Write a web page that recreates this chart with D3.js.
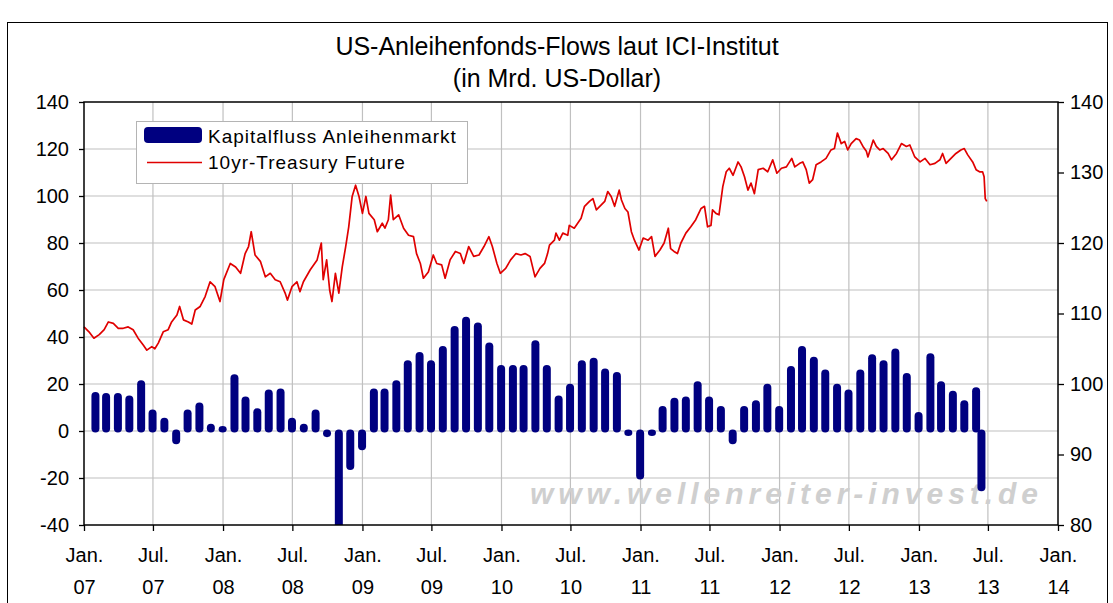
<!DOCTYPE html>
<html>
<head>
<meta charset="utf-8">
<script src="https://cdn.jsdelivr.net/npm/d3@7"></script>
<style>
  body { margin: 0; background: #fff; }
  svg text { font-family: "Liberation Sans", Arial, sans-serif; fill: #000; }
</style>
</head>
<body>
<div id="chart"></div>
<script>
// Monthly bond fund flows (bn USD), Jan 2007 .. Jun 2013
const flowValues = [
  16, 15.5, 15.5, 14.5, 21, 8.5, 5, -5, 8.5, 11.5, 2.5, 1.5,
  23.5, 14, 9, 17, 17.5, 5, 2.5, 8.5, -2, -45, -16, -7.5,
  17.5, 17.5, 21, 29.5, 33, 29.5, 35.5, 44, 48, 45.5, 37, 27.5,
  27.5, 27.5, 38, 27.5, 14.5, 19.5, 29.5, 30.5, 26, 24.5, -1.5, -20,
  -1.5, 10, 13.5, 14, 20.5, 14, 10, -5, 10, 12.5, 19.5, 10,
  27, 35.5, 31, 25.5, 19.5, 17, 25.5, 32, 29.5, 34.5, 24, 7.5,
  32.5, 20.5, 16.5, 12.5, 18, -25
];
const flowLastDate = '2013-06-14'; // partial month

// 10yr Treasury future (right axis)
const treasuryDates = [
  '2007-01-01','2007-01-14','2007-01-27','2007-02-10','2007-02-23','2007-03-06','2007-03-19','2007-04-01','2007-04-14','2007-04-27',
  '2007-05-10','2007-05-23','2007-06-06','2007-06-15','2007-06-28','2007-07-06','2007-07-15','2007-07-28','2007-08-10','2007-08-19',
  '2007-09-02','2007-09-09','2007-09-19','2007-10-02','2007-10-11','2007-10-20','2007-11-02','2007-11-15','2007-11-28','2007-12-11',
  '2007-12-24',
  '2008-01-03','2008-01-20','2008-02-03','2008-02-16','2008-02-28','2008-03-08','2008-03-15','2008-03-25','2008-04-08','2008-04-21',
  '2008-05-04','2008-05-17','2008-05-30','2008-06-12','2008-06-18','2008-06-30','2008-07-13','2008-07-21','2008-07-30','2008-08-17',
  '2008-09-04','2008-09-15','2008-09-20','2008-09-29','2008-10-07','2008-10-13','2008-10-22','2008-10-31','2008-11-09','2008-11-18',
  '2008-11-26','2008-12-05','2008-12-14','2008-12-23',
  '2009-01-01','2009-01-10','2009-01-18','2009-02-01','2009-02-09','2009-02-22','2009-03-01','2009-03-10','2009-03-16','2009-03-23',
  '2009-04-06','2009-04-19','2009-05-02','2009-05-15','2009-05-23','2009-06-02','2009-06-10','2009-06-23','2009-07-06','2009-07-15',
  '2009-07-28','2009-08-06','2009-08-19','2009-09-02','2009-09-15','2009-09-24','2009-10-07','2009-10-20','2009-11-03','2009-11-16',
  '2009-11-29','2009-12-08','2009-12-20','2009-12-29',
  '2010-01-12','2010-01-25','2010-02-08','2010-02-21','2010-03-04','2010-03-17','2010-03-30','2010-04-12','2010-04-24','2010-05-02',
  '2010-05-07','2010-05-20','2010-05-24','2010-06-02','2010-06-11','2010-06-24','2010-06-28','2010-07-11','2010-07-20','2010-07-29',
  '2010-08-07','2010-08-20','2010-08-29','2010-09-07','2010-09-20','2010-09-29','2010-10-07','2010-10-16','2010-10-25','2010-11-06',
  '2010-11-12','2010-11-21','2010-11-29','2010-12-08','2010-12-16','2010-12-28',
  '2011-01-08','2011-01-21','2011-01-30','2011-02-08','2011-02-21','2011-03-04','2011-03-15','2011-03-21','2011-03-30','2011-04-08',
  '2011-04-17','2011-04-30','2011-05-13','2011-05-26','2011-06-09','2011-06-18','2011-06-26','2011-07-05','2011-07-09','2011-07-18',
  '2011-07-26','2011-08-05','2011-08-14','2011-08-22','2011-09-01','2011-09-14','2011-09-22','2011-10-01','2011-10-10','2011-10-18',
  '2011-10-27','2011-11-06','2011-11-19','2011-12-01','2011-12-14','2011-12-25',
  '2012-01-06','2012-01-19','2012-02-02','2012-02-10','2012-02-23','2012-03-02','2012-03-11','2012-03-19','2012-03-28','2012-04-06',
  '2012-04-19','2012-05-02','2012-05-15','2012-05-24','2012-06-01','2012-06-11','2012-06-20','2012-06-28','2012-07-07','2012-07-20',
  '2012-07-29','2012-08-07','2012-08-16','2012-08-20','2012-09-03','2012-09-11','2012-09-20','2012-09-29','2012-10-12','2012-10-21',
  '2012-11-03','2012-11-16','2012-11-29','2012-12-08','2012-12-21',
  '2013-01-04','2013-01-17','2013-01-30','2013-02-12','2013-02-25','2013-03-04','2013-03-13','2013-03-26','2013-04-08','2013-04-21',
  '2013-04-30','2013-05-09','2013-05-22','2013-05-31','2013-06-09','2013-06-17','2013-06-21','2013-06-24','2013-06-28'
];
const treasuryValues = [
  108.1,107.4,106.5,107.0,107.7,108.8,108.6,107.9,107.9,108.1,
  107.7,106.5,105.5,104.8,105.3,105.0,105.8,107.4,107.7,108.8,
  109.8,111.0,109.1,108.8,108.5,110.5,111.0,112.4,114.5,113.8,
  111.7,
  114.8,117.1,116.6,115.7,118.5,119.5,121.6,118.3,117.4,115.2,
  115.7,114.8,114.5,112.9,111.9,113.8,114.5,113.1,114.5,116.2,
  117.6,120.0,114.8,117.6,113.3,111.7,115.7,112.9,116.6,119.5,
  122.3,126.6,128.2,126.6,
  124.2,126.6,124.2,123.3,121.6,122.8,122.1,123.3,126.8,123.3,
  124.0,122.1,121.1,120.9,118.5,117.1,115.0,115.9,118.3,117.1,
  116.9,115.0,117.6,118.8,118.5,117.1,119.5,118.1,118.3,119.5,
  120.9,119.5,117.1,115.7,
  116.4,117.6,118.5,118.3,118.5,118.1,115.2,116.4,117.1,118.5,
  119.7,120.4,121.4,120.4,121.4,121.1,122.5,122.1,122.8,123.5,
  125.2,125.9,126.3,124.7,125.4,125.9,127.3,126.6,125.2,127.5,
  126.1,124.9,124.4,121.6,120.4,119.0,
  120.7,120.4,120.9,118.1,119.0,120.0,122.1,119.2,118.8,118.5,
  120.0,121.4,122.3,123.3,124.9,125.2,122.3,122.5,124.7,124.2,
  124.0,128.0,130.1,130.6,129.6,131.5,130.8,129.4,127.5,128.5,
  127.0,130.4,130.6,130.1,131.8,129.9,
  130.6,130.8,132.0,130.8,131.3,131.5,130.4,128.5,129.0,131.1,
  131.5,132.0,133.2,133.4,135.6,134.1,134.4,133.2,134.1,134.8,
  134.6,133.7,133.0,132.2,134.6,133.7,133.2,133.4,132.7,131.8,
  132.7,134.1,133.7,133.9,132.2,
  131.5,132.0,131.1,131.3,131.8,132.7,131.3,132.0,132.7,133.2,
  133.4,132.5,131.5,130.4,130.1,130.1,129.4,126.3,125.9
];

const leftTicks = [-40, -20, 0, 20, 40, 60, 80, 100, 120, 140];
const rightTicks = [80, 90, 100, 110, 120, 130, 140];
const xTickDates = [
  '2007-01-01','2007-07-01','2008-01-01','2008-07-01','2009-01-01','2009-07-01','2010-01-01','2010-07-01',
  '2011-01-01','2011-07-01','2012-01-01','2012-07-01','2013-01-01','2013-07-01','2014-01-01'
];
const titleLines = ['US-Anleihenfonds-Flows laut ICI-Institut', '(in Mrd. US-Dollar)'];
const legendLabels = ['Kapitalfluss Anleihenmarkt', '10yr-Treasury Future'];
const watermarkText = 'www.wellenreiter-invest.de';

const barColor = '#000080';
const lineColor = '#e00000';
const gridColor = '#c0c0c0';

const W = 1113, H = 603;
const margin = { top: 102, right: 55, bottom: 78, left: 84 };
const width = W - margin.left - margin.right;
const height = H - margin.top - margin.bottom;

const parseDate = d3.timeParse('%Y-%m-%d');

// bars sit on the last day of each month, the final one on a mid-June date
const flowDates = d3.timeMonth
  .range(parseDate('2007-02-01'), parseDate('2013-07-01'))
  .map((d) => d3.timeDay.offset(d, -1));
flowDates.push(parseDate(flowLastDate));
const flows = flowValues.map((v, i) => ({ date: flowDates[i], value: v }));
const treasury = treasuryValues.map((v, i) => ({ date: parseDate(treasuryDates[i]), value: v }));
const xTicks = xTickDates.map(parseDate);

const xScale = d3.scaleTime().domain([xTicks[0], xTicks[xTicks.length - 1]]).range([0, width]);
const yLeft = d3.scaleLinear().domain([-40, 140]).range([height, 0]);
const yRight = d3.scaleLinear().domain([80, 140]).range([height, 0]);

const svg = d3.select('#chart').append('svg')
  .attr('width', W).attr('height', H);

// outer frame
svg.append('rect')
  .attr('x', 7.5).attr('y', 22.5)
  .attr('width', 1100).attr('height', 620)
  .attr('fill', 'none').attr('stroke', '#000').attr('stroke-width', 1);

// title
svg.append('g').selectAll('text')
  .data(titleLines)
  .join('text')
  .attr('x', 557)
  .attr('y', (d, i) => 55 + i * 32)
  .attr('text-anchor', 'middle')
  .style('font-size', '25px')
  .text((d) => d);

const plot = svg.append('g')
  .attr('transform', `translate(${margin.left},${margin.top})`);

plot.append('clipPath').attr('id', 'clip')
  .append('rect').attr('width', width).attr('height', height);

// grid
plot.append('g').selectAll('line')
  .data(leftTicks.slice(1, -1))
  .join('line')
  .attr('x1', 0).attr('x2', width)
  .attr('y1', (d) => yLeft(d)).attr('y2', (d) => yLeft(d))
  .attr('stroke', gridColor).attr('stroke-width', 1.2);

plot.append('g').selectAll('line')
  .data(xTicks.slice(1, -1))
  .join('line')
  .attr('x1', (d) => xScale(d)).attr('x2', (d) => xScale(d))
  .attr('y1', 0).attr('y2', height)
  .attr('stroke', gridColor).attr('stroke-width', 1.2);

// watermark
plot.append('text')
  .attr('x', 446).attr('y', 402)
  .attr('textLength', 508)
  .attr('lengthAdjust', 'spacing')
  .style('font-size', '30px')
  .style('font-style', 'italic')
  .style('font-weight', 'bold')
  .style('fill', '#cfcfcf')
  .text(watermarkText);

// bars
const barW = 8;
const y0 = yLeft(0);
plot.append('g')
  .attr('clip-path', 'url(#clip)')
  .selectAll('rect')
  .data(flows)
  .join('rect')
  .attr('x', (d) => xScale(d.date) - barW / 2)
  .attr('y', (d) => Math.min(yLeft(d.value), y0) - 1.5)
  .attr('width', barW)
  .attr('height', (d) => Math.abs(yLeft(d.value) - y0) + 3)
  .attr('rx', 4)
  .attr('fill', barColor);

// treasury line
const makeLine = d3.line()
  .x((d) => xScale(d.date))
  .y((d) => yRight(d.value));

plot.append('path')
  .datum(treasury)
  .attr('d', makeLine)
  .attr('fill', 'none')
  .attr('stroke', lineColor)
  .attr('stroke-width', 1.7)
  .attr('stroke-linejoin', 'round');

// frame of plot area
plot.append('rect')
  .attr('width', width).attr('height', height)
  .attr('fill', 'none').attr('stroke', '#000').attr('stroke-width', 1.5);

// axes (plain hyphen for negatives, as in the original)
const plain = (d) => String(d);
const yAxisL = d3.axisLeft(yLeft).tickValues(leftTicks).tickSize(5).tickPadding(10).tickFormat(plain);
const yAxisR = d3.axisRight(yRight).tickValues(rightTicks).tickSize(6).tickPadding(6).tickFormat(plain);
const xAxis = d3.axisBottom(xScale).tickValues(xTicks).tickSize(6).tickFormat('');

const gl = plot.append('g').call(yAxisL);
const gr = plot.append('g').attr('transform', `translate(${width},0)`).call(yAxisR);
const gx = plot.append('g').attr('transform', `translate(0,${height})`).call(xAxis);

[gl, gr, gx].forEach((g) => {
  g.select('.domain').remove();
  g.selectAll('.tick line').attr('stroke', '#000').attr('stroke-width', 1.3);
  g.selectAll('.tick text').style('font-size', '20px').attr('fill', '#000');
});

const monthFmt = (d) => (d.getMonth() === 0 ? 'Jan.' : 'Jul.');
const yearFmt = d3.timeFormat('%y');
gx.selectAll('.tick').each(function (d) {
  const t = d3.select(this);
  t.append('text').attr('y', 37).attr('text-anchor', 'middle')
    .style('font-size', '20px').attr('fill', '#000').text(monthFmt(d));
  t.append('text').attr('y', 69).attr('text-anchor', 'middle')
    .style('font-size', '20px').attr('fill', '#000').text(yearFmt(d));
});

// legend
const legend = svg.append('g');
legend.append('rect')
  .attr('x', 136.5).attr('y', 121.5).attr('width', 331).attr('height', 62)
  .attr('fill', '#fff').attr('stroke', '#b4b4b4').attr('stroke-width', 1);
legend.append('rect')
  .attr('x', 144).attr('y', 127).attr('width', 58).attr('height', 16).attr('rx', 4)
  .attr('fill', barColor);
legend.append('line')
  .attr('x1', 147).attr('x2', 202).attr('y1', 162.5).attr('y2', 162.5)
  .attr('stroke', lineColor).attr('stroke-width', 1.6);
legend.selectAll('text.lbl')
  .data(legendLabels)
  .join('text')
  .attr('class', 'lbl')
  .attr('x', 208)
  .attr('y', (d, i) => 143 + i * 26)
  .style('font-size', '19px')
  .style('letter-spacing', '1px')
  .text((d) => d);
</script>
</body>
</html>
